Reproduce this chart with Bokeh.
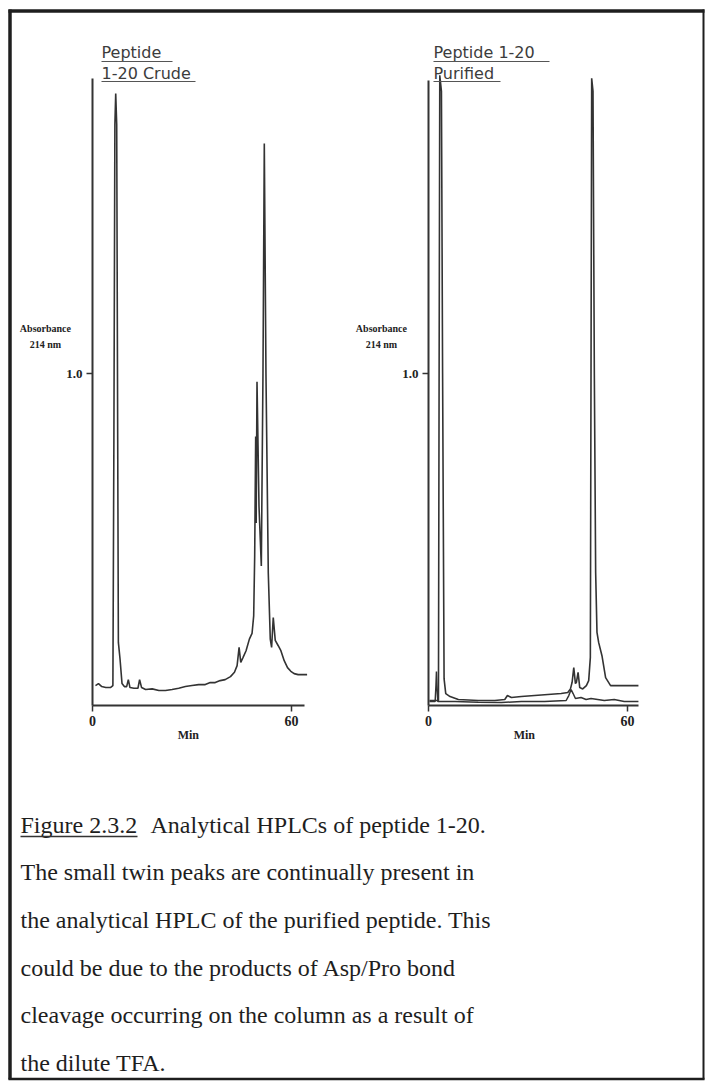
from bokeh.plotting import figure
from bokeh.models import Range1d, LinearAxis, FixedTicker, PrintfTickFormatter
from bokeh.embed import file_html
from bokeh.resources import INLINE
from bokeh.core.properties import value

# ---------------- data ----------------
# Peptide 1-20 crude (time in min, absorbance at 214 nm)
crude_t = [0.9, 1.8, 2.8, 4.0, 5.4, 6.15, 6.45, 6.75, 7.0, 7.3, 7.6, 7.8, 8.3, 8.9,
           9.6, 10.3, 10.8, 11.3, 12.5, 13.7, 14.2, 14.8, 16.0, 18.0, 20.0, 22.0,
           24.0, 26.0, 28.0, 30.0, 32.0, 34.0, 35.5, 37.0, 38.5, 40.0, 41.6, 42.8,
           43.6, 44.2, 44.7, 45.4, 46.3, 47.3, 48.1, 48.6, 48.9, 49.2, 49.35, 49.6,
           50.2, 50.9, 51.4, 51.8, 52.3, 53.0, 53.6, 54.0, 54.5, 55.1, 56.0, 56.8,
           57.8, 58.8, 59.8, 60.8, 62.0, 64.7]
crude_a = [0.060, 0.066, 0.057, 0.054, 0.054, 0.060, 0.80, 1.75, 1.843, 1.75, 0.80, 0.19,
           0.14, 0.066, 0.057, 0.057, 0.078, 0.054, 0.052, 0.052, 0.078, 0.054, 0.048,
           0.050, 0.045, 0.045, 0.048, 0.052, 0.057, 0.060, 0.063, 0.063, 0.069, 0.069,
           0.075, 0.078, 0.087, 0.100, 0.120, 0.175, 0.130, 0.145, 0.165, 0.200, 0.217,
           0.27, 0.45, 0.81, 0.55, 0.975, 0.60, 0.42, 1.0, 1.693, 1.0, 0.40, 0.20,
           0.175, 0.265, 0.196, 0.180, 0.165, 0.135, 0.114, 0.103, 0.096, 0.093, 0.093]

# Peptide 1-20 purified: flat trace
blank_t = [0.3, 2.0, 2.25, 2.4, 2.55, 2.8, 8.0, 15.0, 22.0, 28.0, 35.0, 41.5, 42.3,
           43.0, 43.6, 44.3, 46.0, 47.5, 49.0, 51.0, 53.0, 56.0, 59.0, 63.3]
blank_a = [0.012, 0.012, 0.06, 0.102, 0.06, 0.012, 0.012, 0.010, 0.009, 0.012, 0.012,
           0.015, 0.030, 0.048, 0.036, 0.021, 0.024, 0.018, 0.021, 0.018, 0.015, 0.018,
           0.012, 0.012]

# Peptide 1-20 purified: sample trace
pure_t = [0.3, 3.0, 3.2, 3.4, 3.9, 4.25, 4.7, 5.2, 6.5, 9.0, 15.0, 20.0, 23.0, 23.8,
          25.0, 28.0, 32.0, 36.0, 40.0, 42.0, 42.8, 43.3, 43.8, 44.3, 44.6, 45.1, 45.6,
          46.5, 47.6, 48.3, 48.8, 49.0, 49.2, 49.6, 50.0, 50.4, 50.8, 51.3, 52.3, 53.4,
          54.9, 58.0, 63.3]
pure_a = [0.015, 0.015, 1.0, 1.898, 1.85, 1.0, 0.08, 0.036, 0.027, 0.018, 0.015, 0.015,
          0.018, 0.030, 0.024, 0.027, 0.030, 0.033, 0.036, 0.039, 0.050, 0.070, 0.114,
          0.066, 0.070, 0.100, 0.054, 0.050, 0.060, 0.075, 0.145, 1.0, 1.889, 1.85,
          1.0, 0.40, 0.22, 0.19, 0.15, 0.084, 0.060, 0.060, 0.060]

x_ticks = [0, 60]
y_ticks = [1.0]
titles_left = ["Peptide", "1-20 Crude"]
titles_right = ["Peptide 1-20", "Purified"]
caption_lines = [
    "The small twin peaks are continually present in",
    "the analytical HPLC of the purified peptide.  This",
    "could be due to the products of Asp/Pro bond",
    "cleavage occurring on the column as a result of",
    "the dilute TFA.",
]

# ---------------- layout constants ----------------
W, H = 706, 1083
MIN_PX = 199.0 / 60.0     # pixels per minute
AU_PX = 332.0             # pixels per absorbance unit
L0, R0, BASE = 92.0, 428.0, 705.0
INK = "#333333"

p = figure(width=W, height=H, x_range=Range1d(0, W), y_range=Range1d(H, 0),
           output_backend="svg", toolbar_location=None, x_axis_type=None,
           y_axis_type=None, min_border=0, outline_line_color=None,
           background_fill_color="white", border_fill_color="white")

p.extra_x_ranges = {
    "lx": Range1d(-L0 / MIN_PX, (W - L0) / MIN_PX),
    "rx": Range1d(-R0 / MIN_PX, (W - R0) / MIN_PX),
}
p.extra_y_ranges = {"ay": Range1d((BASE - H) / AU_PX, BASE / AU_PX)}


def add_axes(xr, xmax, ymax):
    xa = LinearAxis(x_range_name=xr, y_range_name="ay", fixed_location=0,
                    bounds=(0, xmax), ticker=FixedTicker(ticks=x_ticks))
    ya = LinearAxis(x_range_name=xr, y_range_name="ay", fixed_location=0,
                    bounds=(0, ymax), ticker=FixedTicker(ticks=y_ticks),
                    formatter=PrintfTickFormatter(format="%.1f"))
    for ax in (xa, ya):
        ax.axis_line_color = INK
        ax.axis_line_width = 2
        ax.major_tick_line_color = INK
        ax.major_tick_line_width = 1.5
        ax.major_tick_in = 0
        ax.major_tick_out = 6
        ax.minor_tick_line_color = None
        ax.major_label_text_font = "Liberation Serif"
        ax.major_label_text_font_style = "bold"
        ax.major_label_text_color = "#222222"
    xa.major_label_text_font_size = "14px"
    xa.major_label_standoff = 4
    ya.major_label_text_font_size = "13px"
    ya.major_label_standoff = 4
    p.add_layout(xa, "below")
    p.add_layout(ya, "left")


add_axes("lx", 63.9, 1.889)
add_axes("rx", 63.3, 1.883)

p.line(crude_t, crude_a, x_range_name="lx", y_range_name="ay",
       line_color=INK, line_width=1.6)
p.line(blank_t, blank_a, x_range_name="rx", y_range_name="ay",
       line_color=INK, line_width=1.5)
p.line(pure_t, pure_a, x_range_name="rx", y_range_name="ay",
       line_color=INK, line_width=1.6)

# axis captions
for xr in ("lx", "rx"):
    p.text(x=[28.9], y=[-0.09], text=["Min"], x_range_name=xr, y_range_name="ay",
           text_font=value("Liberation Serif"), text_font_style="bold",
           text_font_size="12px", text_align="center", text_baseline="middle",
           text_color="#222222")
    p.text(x=[-14.2, -14.2], y=[1.135, 1.087], text=["Absorbance", "214 nm"],
           x_range_name=xr, y_range_name="ay",
           text_font=value("Liberation Serif"), text_font_style="bold",
           text_font_size="10px", text_align="center", text_baseline="middle",
           text_color="#222222")

# titles (underlined)
tfont = dict(text_font=value("DejaVu Sans"), text_font_size="16px",
             text_color="#3c3c3c", text_baseline="middle", text_align="left")
p.text(x=[101, 101], y=[52, 73], text=titles_left, **tfont)
p.text(x=[433, 433], y=[52, 73], text=titles_right, **tfont)
p.segment(x0=[101, 101, 433, 433], y0=[61, 81, 61, 81],
          x1=[172, 195, 549, 500], y1=[61, 81, 61, 81],
          line_color="#555555", line_width=1.2)

# caption
cfont = dict(text_font=value("Liberation Serif"), text_font_size="24px",
             text_color="#1e1e1e", text_baseline="middle", text_align="left")
p.text(x=[20], y=[824], text=["Figure 2.3.2"], **cfont)
p.text(x=[150], y=[824], text=["Analytical HPLCs of peptide 1-20."], **cfont)
p.segment(x0=[20], y0=[836], x1=[137], y1=[836], line_color="#333333", line_width=1.5)
p.text(x=[20] * len(caption_lines), y=[871, 919, 967, 1014, 1062],
       text=caption_lines, **cfont)

# outer frame
p.segment(x0=[9.5, 8, 703, 8], y0=[9, 10.5, 9, 1078.5],
          x1=[9.5, 704, 703, 704], y1=[1079, 10.5, 1079, 1078.5],
          line_color="#1e1e1e", line_width=[3.5, 3.5, 2, 2.5])

open("out.html", "w").write(file_html(p, INLINE))
